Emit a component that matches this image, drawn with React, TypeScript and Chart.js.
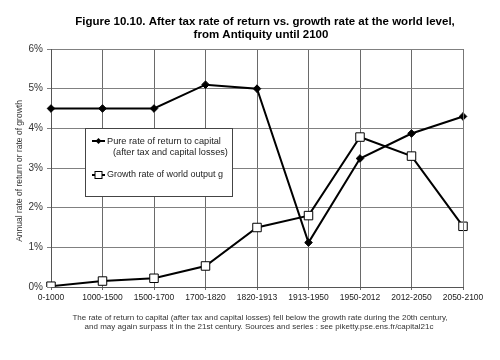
import React, { useEffect, useRef } from "react";
import { Chart, registerables } from "chart.js";

Chart.register(...registerables);

const periods = ["0-1000", "1000-1500", "1500-1700", "1700-1820", "1820-1913", "1913-1950", "1950-2012", "2012-2050", "2050-2100"];
const pureReturn = [4.5, 4.5, 4.5, 5.1, 5.0, 1.12, 3.24, 3.87, 4.3];
const worldGrowth = [0.02, 0.15, 0.22, 0.53, 1.5, 1.8, 3.78, 3.3, 1.53];
const titleLines = [
  "Figure 10.10. After tax rate of return vs. growth rate at the world level,",
  "from Antiquity until 2100",
];
const footerLines = [
  "The rate of return to capital (after tax and capital losses) fell below the growth rate during the 20th century,",
  "and may again surpass it in the 21st century. Sources and series : see piketty.pse.ens.fr/capital21c",
];
const yAxisTitle = "Annual rate of return or rate of growth";
const pureLabel = ["Pure rate of return to capital", "(after tax and capital losses)"];
const growthLabel = "Growth rate of world output g";

const FONT = "Arial, 'Liberation Sans', sans-serif";

const decorPlugin = {
  id: "decor",
  afterDraw(chart: any) {
    const ctx = chart.ctx as CanvasRenderingContext2D;
    const area = chart.chartArea;
    ctx.save();
    // title
    ctx.fillStyle = "#000";
    ctx.font = `bold 11.5px ${FONT}`;
    ctx.textAlign = "center";
    ctx.textBaseline = "middle";
    ctx.fillText(titleLines[0], 265, 22);
    ctx.fillText(titleLines[1], 261, 35);
    // footer
    ctx.fillStyle = "#333";
    ctx.font = `8px ${FONT}`;
    ctx.fillText(footerLines[0], 260, 318);
    ctx.fillText(footerLines[1], 259, 327);
    // y axis title
    ctx.save();
    ctx.translate(20, (area.top + area.bottom) / 2 + 3);
    ctx.rotate(-Math.PI / 2);
    ctx.fillStyle = "#333";
    ctx.font = `8.5px ${FONT}`;
    ctx.fillText(yAxisTitle, 0, 0);
    ctx.restore();
    // right border
    ctx.strokeStyle = "#777";
    ctx.lineWidth = 1;
    ctx.beginPath();
    ctx.moveTo(Math.round(area.right) + 0.5, area.top);
    ctx.lineTo(Math.round(area.right) + 0.5, area.bottom);
    ctx.stroke();
    // legend box
    const bx = 85, by = 128, bw = 147, bh = 68;
    ctx.fillStyle = "#fff";
    ctx.fillRect(bx, by, bw, bh);
    ctx.strokeStyle = "#444";
    ctx.strokeRect(bx + 0.5, by + 0.5, bw, bh);
    ctx.strokeStyle = "#000";
    ctx.lineWidth = 2;
    ctx.beginPath();
    ctx.moveTo(92, 141);
    ctx.lineTo(105, 141);
    ctx.moveTo(92, 175);
    ctx.lineTo(105, 175);
    ctx.stroke();
    // diamond
    ctx.fillStyle = "#000";
    ctx.beginPath();
    ctx.moveTo(98.5, 138);
    ctx.lineTo(101.5, 141);
    ctx.lineTo(98.5, 144);
    ctx.lineTo(95.5, 141);
    ctx.closePath();
    ctx.fill();
    // square
    ctx.fillStyle = "#fff";
    ctx.lineWidth = 1;
    ctx.fillRect(95, 171.5, 7, 7);
    ctx.strokeRect(95, 171.5, 7, 7);
    ctx.fillStyle = "#222";
    ctx.font = `9.2px ${FONT}`;
    ctx.textAlign = "left";
    ctx.fillText(pureLabel[0], 107, 141);
    ctx.fillText(pureLabel[1], 113, 152);
    ctx.font = `9px ${FONT}`;
    ctx.fillText(growthLabel, 107, 175);
    ctx.restore();
  },
};

export default function App() {
  const ref = useRef<HTMLCanvasElement>(null);
  useEffect(() => {
    if (!ref.current) return;
    const chart = new Chart(ref.current, {
      type: "line",
      data: {
        labels: periods,
        datasets: [
          {
            label: pureLabel.join(" "),
            data: pureReturn,
            borderColor: "#000",
            backgroundColor: "#000",
            borderWidth: 2,
            pointStyle: "rectRot",
            pointRadius: 3.8,
            pointBorderWidth: 1,
            tension: 0,
          },
          {
            label: growthLabel,
            data: worldGrowth,
            borderColor: "#000",
            backgroundColor: "#fff",
            borderWidth: 2,
            pointStyle: "rect",
            pointRadius: 6,
            pointBorderWidth: 1,
            tension: 0,
          },
        ],
      },
      options: {
        animation: false,
        responsive: false,
        maintainAspectRatio: false,
        layout: { padding: { top: 49, right: 37, bottom: 53, left: 0 } },
        plugins: { legend: { display: false }, title: { display: false }, tooltip: { enabled: false } },
        scales: {
          x: {
            offset: false,
            afterFit: (s: any) => {
              s.height = 20;
            },
            grid: { color: "#6a6a6a", lineWidth: 1, tickLength: 3, tickColor: "#6a6a6a" },
            border: { color: "#555", width: 1 },
            ticks: { color: "#222", font: { family: FONT, size: 8.5 }, maxRotation: 0, autoSkip: false, padding: 3 },
          },
          y: {
            min: 0,
            max: 6,
            afterFit: (s: any) => {
              s.width = 51;
            },
            grid: { color: "#808080", lineWidth: 1, tickLength: 4, tickColor: "#808080" },
            border: { color: "#555", width: 1 },
            ticks: {
              stepSize: 1,
              color: "#333",
              font: { family: FONT, size: 10 },
              padding: 4,
              callback: (v: any) => `${v}%`,
            },
          },
        },
      },
      plugins: [decorPlugin],
    });
    return () => chart.destroy();
  }, []);
  return (
    <div style={{ position: "fixed", left: 0, top: 0, width: 500, height: 360, background: "#fff" }}>
      <canvas ref={ref} width={500} height={360} style={{ display: "block" }} />
    </div>
  );
}
